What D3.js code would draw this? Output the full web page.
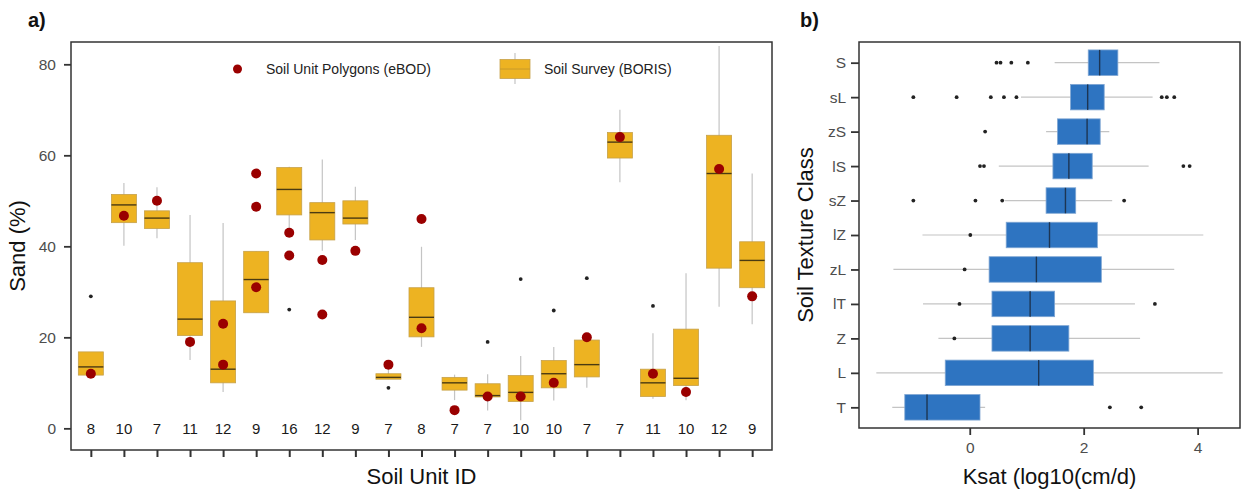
<!DOCTYPE html>
<html>
<head>
<meta charset="utf-8">
<script src="https://cdn.jsdelivr.net/npm/d3@7/dist/d3.min.js"></script>
<style>
  html, body { margin: 0; padding: 0; background: #fff; }
  svg { display: block; font-family: "Liberation Sans", Arial, sans-serif; }
</style>
</head>
<body>
<svg id="chart" width="1241" height="490"></svg>
<script>
// ---------- Panel a data: Sand (%) by Soil Unit ----------
const unitIds   = d3.range(1, 22).map(String);
const counts    = [8,10,7,11,12,9,16,12,9,7,8,7,7,10,10,7,7,11,10,12,9];
const sandLo    = [11.7,40.1,41.8,15.0,8.0,25.4,43.0,39.0,41.4,10.8,17.9,6.2,3.9,1.8,6.1,8.9,54.1,6.5,6.2,26.7,22.9];
const sandQ1    = [11.7,45.2,43.9,20.4,10.0,25.4,46.9,41.4,44.9,10.8,20.1,8.4,6.9,5.9,8.9,11.3,59.4,7.0,9.4,35.2,30.9];
const sandMed   = [13.5,49.1,46.2,24.0,13.0,32.7,52.5,47.4,46.2,11.2,24.4,10.0,7.2,7.9,12.0,14.0,62.9,10.0,11.0,56.0,36.9];
const sandQ3    = [16.8,51.4,47.8,36.4,28.0,38.9,57.3,49.6,50.0,12.0,30.9,11.2,9.8,11.6,14.9,19.4,65.0,13.0,21.8,64.4,41.0];
const sandHi    = [16.8,53.9,53.0,46.9,45.1,38.9,57.5,59.1,53.1,13.0,39.9,11.8,11.9,15.9,17.9,19.4,70.0,20.9,34.1,84.0,56.0];
const sandOut   = [[29],[],[],[],[],[],[26.1],[],[],[8.9],[],[],[19],[32.8],[25.9],[33],[],[26.9],[],[],[]];
const ebodSand  = [[12],[46.7],[50],[19],[23,14],[56,48.7,31],[43,38],[37,25],[39],[14],[22,46],[4],[7],[7],[10],[20],[64],[12],[8],[57],[29]];
const sandTicks = [0,20,40,60,80];

// ---------- Panel b data: Ksat by texture class ----------
const classes = ["S","sL","zS","lS","sZ","lZ","zL","lT","Z","L","T"];
const kLo  = [1.49,0.90,1.34,0.51,0.62,-0.83,-1.34,-0.82,-0.55,-1.64,-1.36];
const kQ1  = [2.08,1.77,1.54,1.46,1.34,0.64,0.34,0.39,0.39,-0.43,-1.14];
const kMed = [2.28,2.07,2.06,1.74,1.68,1.40,1.17,1.06,1.06,1.21,-0.75];
const kQ3  = [2.60,2.36,2.29,2.15,1.86,2.24,2.31,1.49,1.74,2.17,0.18];
const kHi  = [3.33,3.21,2.45,3.14,2.50,4.10,3.59,2.90,2.99,4.44,0.27];
const kOut = [[0.47,0.54,0.73,1.02],[-0.99,-0.23,0.37,0.60,0.82,3.37,3.46,3.59],[0.27],[0.18,0.25,3.75,3.86],[-0.99,0.10,0.57,2.71],[0.01],[-0.09],[-0.18,3.25],[-0.27],[],[2.46,3.01]];
const ksatTicks = [0,2,4];

const svg = d3.select("#chart");
const tickGray = "#4d4d4d";
const gold = "#EDB322", goldEdge = "#C6A14A", goldMed = "#4a3a12";
const blue = "#2E74C1", blueEdge = "#7FA6D3", blueMed = "#1d3553";
const whisk = "#c4c4c4";

// ================= Panel a =================
const A = {l: 71, r: 772, t: 42, b: 450};
const xa = d3.scalePoint().domain(unitIds).range([A.l, A.r]).padding(0.6);
const ya = d3.scaleLinear().domain([-4.76, 84.9]).range([A.b, A.t]);
const bwA = 25;

const ga = svg.append("g");
const boxesA = unitIds.map((id, i) => ({id, i}));

// whiskers
ga.selectAll("line.wa").data(boxesA).join("line")
  .attr("x1", d => xa(d.id)).attr("x2", d => xa(d.id))
  .attr("y1", d => ya(sandLo[d.i])).attr("y2", d => ya(sandHi[d.i]))
  .attr("stroke", whisk).attr("stroke-width", 1.2);
// boxes
ga.selectAll("rect.ba").data(boxesA).join("rect")
  .attr("x", d => xa(d.id) - bwA / 2).attr("width", bwA)
  .attr("y", d => ya(sandQ3[d.i])).attr("height", d => Math.max(1, ya(sandQ1[d.i]) - ya(sandQ3[d.i])))
  .attr("fill", gold).attr("stroke", goldEdge).attr("stroke-width", 0.8);
// medians
ga.selectAll("line.ma").data(boxesA).join("line")
  .attr("x1", d => xa(d.id) - bwA / 2).attr("x2", d => xa(d.id) + bwA / 2)
  .attr("y1", d => ya(sandMed[d.i])).attr("y2", d => ya(sandMed[d.i]))
  .attr("stroke", goldMed).attr("stroke-width", 1.4);
// outliers
const outA = boxesA.flatMap(d => sandOut[d.i].map(v => ({id: d.id, v})));
ga.selectAll("circle.oa").data(outA).join("circle")
  .attr("cx", d => xa(d.id)).attr("cy", d => ya(d.v)).attr("r", 1.9).attr("fill", "#222");
// eBOD points
const ptsA = boxesA.flatMap(d => ebodSand[d.i].map(v => ({id: d.id, v})));
ga.selectAll("circle.pa").data(ptsA).join("circle")
  .attr("cx", d => xa(d.id)).attr("cy", d => ya(d.v)).attr("r", 5).attr("fill", "#9a0000");
// counts at y=0
ga.selectAll("text.ca").data(boxesA).join("text")
  .attr("x", d => xa(d.id)).attr("y", ya(0)).attr("dy", "0.35em")
  .attr("text-anchor", "middle").attr("font-size", 15).attr("fill", "#1a1a1a")
  .text(d => counts[d.i]);

// frame
svg.append("rect").attr("x", A.l).attr("y", A.t).attr("width", A.r - A.l).attr("height", A.b - A.t)
  .attr("fill", "none").attr("stroke", "#333").attr("stroke-width", 1.5);

// axes
const axYa = svg.append("g").attr("transform", `translate(${A.l},0)`)
  .call(d3.axisLeft(ya).tickValues(sandTicks).tickSize(7).tickPadding(8));
axYa.select(".domain").remove();
axYa.selectAll(".tick line").attr("stroke", "#333").attr("stroke-width", 1.8);
axYa.selectAll(".tick text").attr("font-size", 15.5).attr("fill", tickGray).attr("font-family", "Liberation Sans, Arial, sans-serif");

const axXa = svg.append("g").attr("transform", `translate(0,${A.b})`)
  .call(d3.axisBottom(xa).tickSize(7).tickFormat(""));
axXa.select(".domain").remove();
axXa.selectAll(".tick line").attr("stroke", "#333").attr("stroke-width", 2);

svg.append("text").attr("x", (A.l + A.r) / 2).attr("y", 484).attr("text-anchor", "middle")
  .attr("font-size", 22).attr("fill", "#111").text("Soil Unit ID");
svg.append("text").attr("transform", `translate(25,${(A.t + A.b) / 2}) rotate(-90)`)
  .attr("text-anchor", "middle").attr("font-size", 22).attr("fill", "#111").text("Sand (%)");
svg.append("text").attr("x", 28).attr("y", 27).attr("font-size", 20).attr("font-weight", "bold")
  .attr("fill", "#111").text("a)");

// legend
const lg = svg.append("g");
lg.append("circle").attr("cx", 237.5).attr("cy", 69).attr("r", 4.5).attr("fill", "#9a0000");
lg.append("text").attr("x", 266).attr("y", 69).attr("dy", "0.35em").attr("font-size", 14)
  .attr("fill", "#222").text("Soil Unit Polygons (eBOD)");
lg.append("line").attr("x1", 515).attr("x2", 515).attr("y1", 53).attr("y2", 84)
  .attr("stroke", whisk).attr("stroke-width", 1.2);
lg.append("rect").attr("x", 500).attr("y", 59.5).attr("width", 30).attr("height", 19)
  .attr("fill", gold).attr("stroke", goldEdge).attr("stroke-width", 0.8);
lg.append("line").attr("x1", 500).attr("x2", 530).attr("y1", 69).attr("y2", 69)
  .attr("stroke", "#c89a2a").attr("stroke-width", 1);
lg.append("text").attr("x", 544).attr("y", 69).attr("dy", "0.35em").attr("font-size", 14)
  .attr("fill", "#222").text("Soil Survey (BORIS)");

// ================= Panel b =================
const B = {l: 859, r: 1240, t: 42, b: 428};
const xb = d3.scaleLinear().domain([-1.944, 4.744]).range([B.l, B.r]);
const yb = d3.scalePoint().domain(classes).range([B.t, B.b]).padding(0.6);
const bhB = 25.5;
const gb = svg.append("g");
const boxesB = classes.map((c, i) => ({c, i}));

gb.selectAll("line.wb").data(boxesB).join("line")
  .attr("y1", d => yb(d.c)).attr("y2", d => yb(d.c))
  .attr("x1", d => xb(kLo[d.i])).attr("x2", d => xb(kHi[d.i]))
  .attr("stroke", whisk).attr("stroke-width", 1.2);
gb.selectAll("rect.bb").data(boxesB).join("rect")
  .attr("y", d => yb(d.c) - bhB / 2).attr("height", bhB)
  .attr("x", d => xb(kQ1[d.i])).attr("width", d => xb(kQ3[d.i]) - xb(kQ1[d.i]))
  .attr("fill", blue).attr("stroke", blueEdge).attr("stroke-width", 0.8);
gb.selectAll("line.mb").data(boxesB).join("line")
  .attr("y1", d => yb(d.c) - bhB / 2).attr("y2", d => yb(d.c) + bhB / 2)
  .attr("x1", d => xb(kMed[d.i])).attr("x2", d => xb(kMed[d.i]))
  .attr("stroke", blueMed).attr("stroke-width", 1.4);
const outB = boxesB.flatMap(d => kOut[d.i].map(v => ({c: d.c, v})));
gb.selectAll("circle.ob").data(outB).join("circle")
  .attr("cx", d => xb(d.v)).attr("cy", d => yb(d.c)).attr("r", 1.9).attr("fill", "#222");

svg.append("rect").attr("x", B.l).attr("y", B.t).attr("width", B.r - B.l).attr("height", B.b - B.t)
  .attr("fill", "none").attr("stroke", "#333").attr("stroke-width", 1.5);

const axYb = svg.append("g").attr("transform", `translate(${B.l},0)`)
  .call(d3.axisLeft(yb).tickSize(8).tickPadding(5));
axYb.select(".domain").remove();
axYb.selectAll(".tick line").attr("stroke", "#333").attr("stroke-width", 1.8);
axYb.selectAll(".tick text").attr("font-size", 15.5).attr("fill", tickGray).attr("font-family", "Liberation Sans, Arial, sans-serif");

const axXb = svg.append("g").attr("transform", `translate(0,${B.b})`)
  .call(d3.axisBottom(xb).tickValues(ksatTicks).tickSize(7).tickPadding(7).tickFormat(d3.format("d")));
axXb.select(".domain").remove();
axXb.selectAll(".tick line").attr("stroke", "#333").attr("stroke-width", 1.8);
axXb.selectAll(".tick text").attr("font-size", 15.5).attr("fill", tickGray).attr("font-family", "Liberation Sans, Arial, sans-serif");

svg.append("text").attr("x", (B.l + B.r) / 2).attr("y", 484).attr("text-anchor", "middle")
  .attr("font-size", 22).attr("fill", "#111").text("Ksat (log10(cm/d)");
svg.append("text").attr("transform", `translate(813,${(B.t + B.b) / 2}) rotate(-90)`)
  .attr("text-anchor", "middle").attr("font-size", 22).attr("fill", "#111").text("Soil Texture Class");
svg.append("text").attr("x", 800).attr("y", 27).attr("font-size", 20).attr("font-weight", "bold")
  .attr("fill", "#111").text("b)");
</script>
</body>
</html>
